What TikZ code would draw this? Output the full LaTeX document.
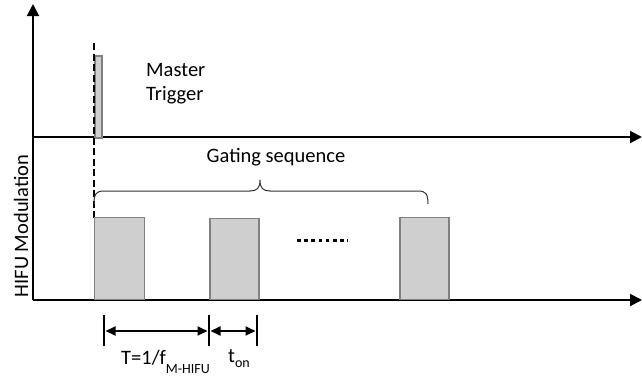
\documentclass[tikz,border=0pt]{standalone}
\usepackage{fontspec}
\setmainfont{Carlito}
\usetikzlibrary{arrows.meta}
\begin{document}
\begin{tikzpicture}[x=1pt,y=-1pt,
  axis/.style={line width=2pt,-{Triangle[length=12pt,width=12pt]}},
  pulse/.style={draw=black!50,fill=black!19,line width=1.5pt},
  dimbar/.style={line width=2.4pt},
  dimarrow/.style={line width=2pt,{Triangle[length=10pt,width=9pt]}-{Triangle[length=10pt,width=9pt]}},
  lbl/.style={font=\fontsize{20.5}{24}\selectfont,inner sep=0pt}]
\useasboundingbox (0,0) rectangle (642,380);

% axes
\coordinate (O) at (33,300);
\coordinate (ytop) at (33,4);
\coordinate (mid) at (33,137);
\coordinate (midend) at (642,137);
\coordinate (xend) at (642,300);
\draw[axis] (O) -- (ytop);
\draw[axis] (mid) -- (midend);
\draw[axis] (O) -- (xend);

% master trigger pulse
\node[pulse,inner sep=0pt,anchor=north west,
  minimum width=7pt,minimum height=82pt] (trig) at (94,55) {};
\node[lbl,align=left,anchor=west] (trigtxt) at (146,84) {Master\\Trigger};

% trigger reference line
\coordinate (dtop) at (94,43);
\coordinate (dbot) at (94,218);
\draw[line width=2.4pt,dash pattern=on 7pt off 3.5pt] (dtop) -- (dbot);

% gated pulses
\node[pulse,inner sep=0pt,anchor=south west,minimum width=50pt,minimum height=82pt] (p1) at (93.5,300) {};
\node[pulse,inner sep=0pt,anchor=south west,minimum width=49pt,minimum height=81pt] (p2) at (209,300) {};
\node[pulse,inner sep=0pt,anchor=south west,minimum width=49pt,minimum height=82pt] (p3) at (399,300) {};
\coordinate (dots1) at (297,240);
\coordinate (dots2) at (348,240);
\draw[line width=3pt,dash pattern=on 3.5pt off 3.7pt] (dots1) -- (dots2);

% gating sequence brace
\coordinate (bl) at (94,204);
\coordinate (br) at (428,204);
\coordinate (btip) at (260,180);
\draw[black!80,line width=1pt]
  (bl) .. controls (94,194) and (96,191) .. (104,191) -- (250,191)
  .. controls (257,191) and (260,188) .. (btip)
  .. controls (260,188) and (263,191) .. (270,191) -- (418,191)
  .. controls (426,191) and (428,194) .. (br);
\node[lbl] (gate) at (276,157) {Gating sequence};

% period and on-time dimensions
\coordinate (t0a) at (104,315); \coordinate (t0b) at (104,346);
\coordinate (t1a) at (209,315); \coordinate (t1b) at (209,346);
\coordinate (t2a) at (257,315); \coordinate (t2b) at (257,346);
\draw[dimbar] (t0a) -- (t0b);
\draw[dimbar] (t1a) -- (t1b);
\draw[dimbar] (t2a) -- (t2b);
\coordinate (a0) at (105.5,331); \coordinate (a1) at (207.5,331);
\coordinate (a2) at (210.5,331); \coordinate (a3) at (255.5,331);
\draw[dimarrow] (a0) -- (a1);
\draw[dimarrow] (a2) -- (a3);
\node[lbl,anchor=base west] (per) at (121,364) {T=1/f\raisebox{-9pt}{\fontsize{14}{16}\selectfont M-HIFU}};
\node[lbl,anchor=base west] (ton) at (228,362) {t\raisebox{-5pt}{\fontsize{14}{16}\selectfont on}};

% vertical axis label
\node[lbl,rotate=90] (ylab) at (21,226) {HIFU Modulation};
\end{tikzpicture}
\end{document}
